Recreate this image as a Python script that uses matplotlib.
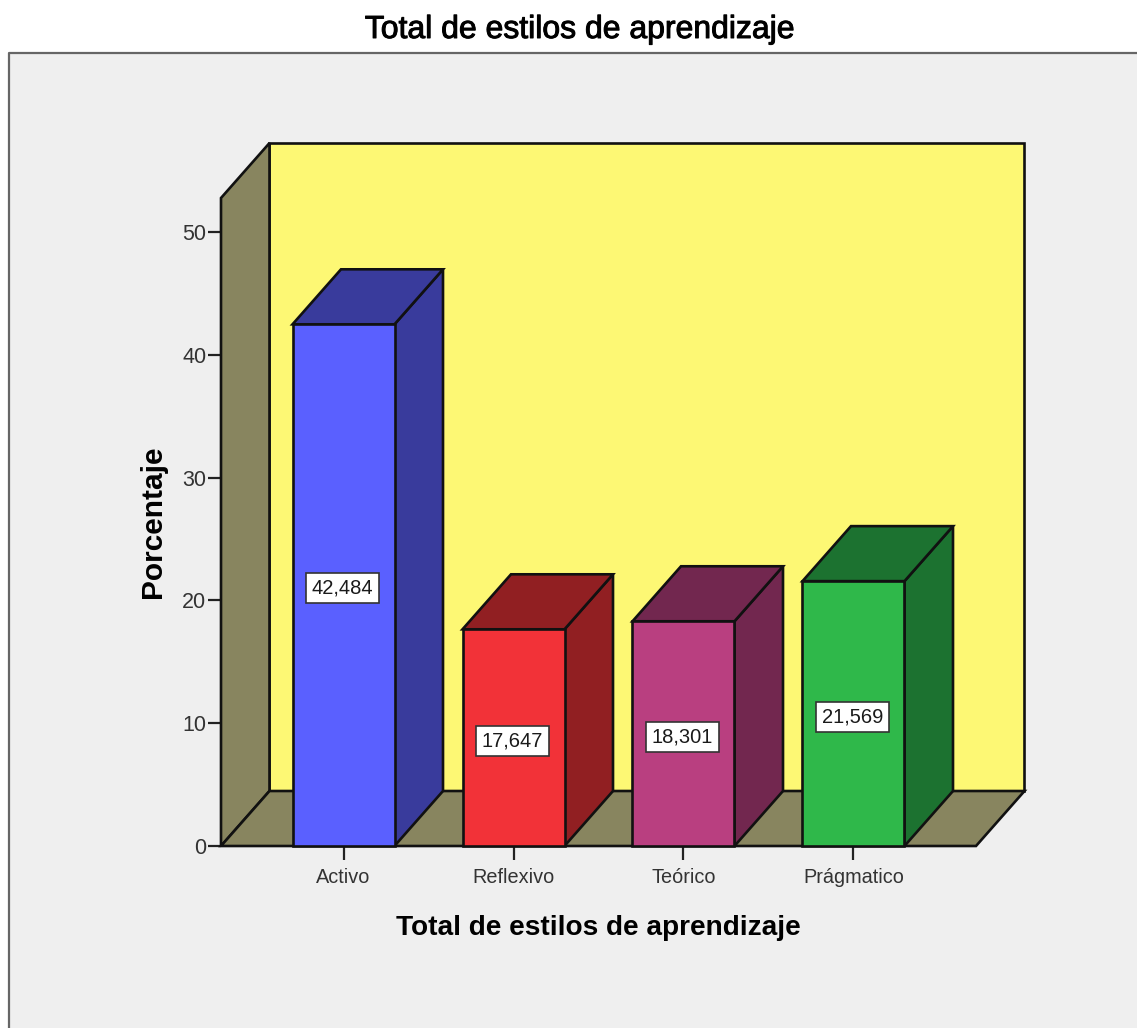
import matplotlib
matplotlib.use("Agg")
import matplotlib.pyplot as plt
import matplotlib.patheffects as pe
from matplotlib.patches import Polygon, Rectangle

plt.rcParams['font.family'] = ['Liberation Sans', 'DejaVu Sans']

categorias = ['Activo', 'Reflexivo', 'Teórico', 'Prágmatico']
porcentajes = [42.484, 17.647, 18.301, 21.569]
etiquetas = ['42,484', '17,647', '18,301', '21,569']
yticks = [0, 10, 20, 30, 40, 50]

frente = ['#5a60ff', '#f23238', '#b93f80', '#2fb84a']
lado = ['#393b9c', '#911f22', '#72274f', '#1c7230']
pared = '#fdf874'
suelo = '#88855f'
fondo = '#efefef'
borde = '#111111'

W, H = 1137, 1028
fig = plt.figure(figsize=(W / 100, H / 100), dpi=100, facecolor='white')

# panel gris, solo con borde arriba e izquierda
fig.add_artist(Rectangle((9 / W, 0), 1 - 9 / W, 1 - 53 / H, transform=fig.transFigure,
                         facecolor=fondo, edgecolor='none', zorder=-2))
fig.add_artist(plt.Line2D([9 / W, 9 / W, 1], [0, 1 - 53 / H, 1 - 53 / H], color='#666666', lw=1.6, zorder=-1))

ax = fig.add_axes([221 / W, (H - 846) / H, (976 - 221) / W, (846 - 198) / H])
ax.set_xlim(-0.7206, 3.7206)
ax.set_ylim(0, 52.77)
ax.patch.set_visible(False)
for s in ['top', 'right', 'left', 'bottom']:
    ax.spines[s].set_visible(False)

# profundidad de la perspectiva, en unidades de datos
dx = 48.5 / 170
dy = 55 / 12.28
ancho = 102 / 170
x0, x1 = ax.get_xlim()
y1 = ax.get_ylim()[1]
lw = 1.9


def poly(puntos, color, z):
    ax.add_patch(Polygon(puntos, closed=True, facecolor=color, edgecolor=borde, lw=lw,
                         joinstyle='miter', zorder=z, clip_on=False))


poly([(x0 + dx, dy), (x1 + dx, dy), (x1 + dx, y1 + dy), (x0 + dx, y1 + dy)], pared, 1)
poly([(x0, 0), (x0 + dx, dy), (x0 + dx, y1 + dy), (x0, y1)], suelo, 2)
poly([(x0, 0), (x1, 0), (x1 + dx, dy), (x0 + dx, dy)], suelo, 2)

for i, v in enumerate(porcentajes):
    a = i - ancho / 2
    b = i + ancho / 2
    poly([(b, 0), (b + dx, dy), (b + dx, v + dy), (b, v)], lado[i], 3)
    poly([(a, v), (b, v), (b + dx, v + dy), (a + dx, v + dy)], lado[i], 3)
    poly([(a, 0), (b, 0), (b, v), (a, v)], frente[i], 4)
    ax.text(i - 0.006, v / 2 - 0.25, etiquetas[i], ha='center', va='center', fontsize=14.5, color='#1a1a1a',
            zorder=5, bbox=dict(boxstyle='square,pad=0.28', facecolor='white', edgecolor='#333333', lw=1.2))

ax.set_xticks(range(len(categorias)))
ax.set_xticklabels(categorias)
ax.set_yticks(yticks)
ax.tick_params(axis='x', length=10, width=1.6, color='#222222', labelsize=14.3, labelcolor='#333333', pad=6)
ax.tick_params(axis='y', length=9.5, width=1.6, color='#222222', labelsize=15.5, labelcolor='#333333', pad=1)

titulo = fig.text(580 / W, 1 - 30 / H, 'Total de estilos de aprendizaje', ha='center', va='center',
                  fontsize=23, color='black')
titulo.set_path_effects([pe.withStroke(linewidth=0.7, foreground='black')])
fig.text(598 / W, 1 - 928 / H, 'Total de estilos de aprendizaje', ha='center', va='center',
         fontsize=20.2, color='black', fontweight='bold')
fig.text(153 / W, 1 - 522 / H, 'Porcentaje', ha='center', va='center', rotation=90,
         fontsize=21.5, color='black', fontweight='bold')

fig.savefig('out.png', dpi=100)
